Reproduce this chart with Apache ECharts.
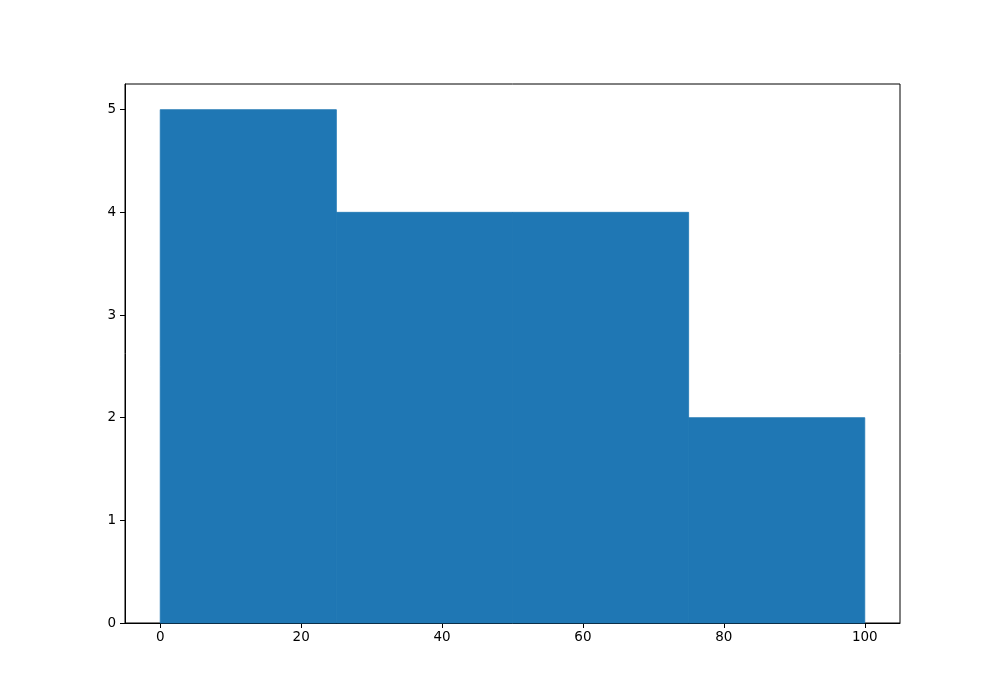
<!DOCTYPE html>
<html>
<head>
<meta charset="utf-8">
<script src="https://cdn.jsdelivr.net/npm/echarts@6/dist/echarts.min.js"></script>
<style>
  html, body { margin: 0; padding: 0; background: #fff; }
  #main { width: 1000px; height: 700px; }
</style>
</head>
<body>
<div id="main"></div>
<script>
var chartDom = document.getElementById('main');
var myChart = echarts.init(chartDom);

// histogram bins: left edge, right edge, count
const binStarts = [0, 25, 50, 75];
const binEnds = [25, 50, 75, 100];
const counts = [5, 4, 4, 2];

const xTicks = [0, 20, 40, 60, 80, 100];
const yTicks = [0, 1, 2, 3, 4, 5];

const histData = binStarts.map((s, i) => [s, binEnds[i], counts[i]]);

const labelStyle = {
    color: '#000',
    fontFamily: 'DejaVu Sans',
    fontSize: 13.5
};

var option = {
    animation: false,
    grid: {
        left: 125,
        right: 100,
        top: 84,
        bottom: 77,
        show: true,
        borderColor: '#000',
        borderWidth: 1,
        backgroundColor: 'transparent'
    },
    xAxis: {
        type: 'value',
        min: -5,
        max: 105,
        splitLine: { show: false },
        axisLine: { show: true, onZero: false, lineStyle: { color: '#000', width: 1 } },
        axisTick: { show: true, length: 5, customValues: xTicks, lineStyle: { color: '#000' } },
        axisLabel: Object.assign({ margin: 7, customValues: xTicks }, labelStyle)
    },
    yAxis: {
        type: 'value',
        min: 0,
        max: 5.25,
        splitLine: { show: false },
        axisLine: { show: true, onZero: false, lineStyle: { color: '#000', width: 1 } },
        axisTick: { show: true, length: 5, customValues: yTicks, lineStyle: { color: '#000' } },
        axisLabel: Object.assign({ margin: 9, customValues: yTicks }, labelStyle)
    },
    series: [
        {
            type: 'custom',
            data: histData,
            renderItem: function (params, api) {
                // top-left corner and bottom-right corner of each bin
                var p0 = api.coord([api.value(0), api.value(2)]);
                var p1 = api.coord([api.value(1), 0]);
                return {
                    type: 'rect',
                    shape: { x: p0[0], y: p0[1], width: p1[0] - p0[0], height: p1[1] - p0[1] },
                    style: { fill: '#1f77b4', stroke: '#1f77b4', lineWidth: 0.8 }
                };
            }
        }
    ]
};

myChart.setOption(option);
</script>
</body>
</html>
